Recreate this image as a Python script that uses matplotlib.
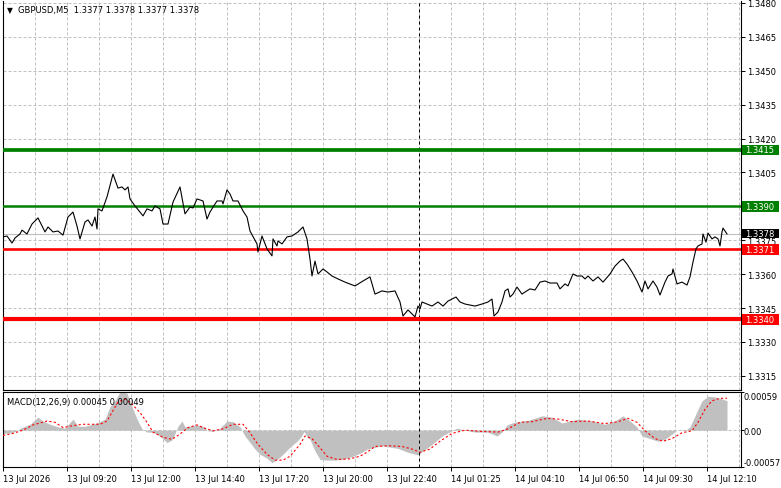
import numpy as np
import matplotlib.pyplot as plt
from matplotlib.patches import Rectangle

plt.rcParams['font.family'] = ['DejaVu Sans']

# close prices (bar index, M5 bars)
price_bars = [0, 2, 4.5, 6, 8.5, 9.5, 12, 14.5, 17.5, 19.5, 21, 22.5, 25, 27.5, 30, 32.5, 35, 37, 38.5, 41,
              42.5, 44.5, 46, 47, 47.5, 49.5, 52, 55, 57.5, 59.5, 61, 62.5, 63.5, 66, 68.5, 70, 72, 74.5, 76, 78.5,
              80, 82.5, 85, 88.5, 91, 93.5, 95, 97, 100, 102, 103.5, 105, 107, 109.5, 110, 112, 113.5, 115, 117.5, 120,
              122, 123.5, 127, 127.5, 129.5, 132, 134.5, 135, 137, 137.5, 139.5, 142, 144.5, 147.5, 150, 152, 153.5, 154.5, 156, 157.5,
              160, 162, 164.5, 167.5, 171, 176, 180, 183.5, 186, 189.5, 192.5, 196, 198.5, 200, 202.5, 204.5, 206, 207.5, 208.5, 209.5,
              212, 214.5, 217.5, 220, 222.5, 226.5, 228.5, 231, 236, 239.5, 242.5, 244.5, 245.5, 247.5, 249.5, 251, 252.5, 253.5, 255, 257,
              259.5, 261, 263.5, 266, 268.5, 271, 273.5, 277, 278.5, 281, 282.5, 285, 287, 289.5, 291, 292.5, 295, 297.5, 300, 303.5,
              306, 308.5, 310, 312, 314.5, 317, 319.5, 321, 322.5, 325, 327, 328.5, 331, 332.5, 334.5, 335, 337, 339.5, 342, 343.5,
              345, 346.5, 347.5, 349.5, 350, 351.5, 352.5, 354.5, 356, 357.5, 358.5, 359.5, 360, 362]
price_close = [1.33765, 1.33769, 1.33738, 1.33760, 1.33778, 1.33795, 1.33778, 1.33822, 1.33849, 1.33813,
               1.33787, 1.33809, 1.33787, 1.33791, 1.33773, 1.33853, 1.33875, 1.33813, 1.33756, 1.33831,
               1.33840, 1.33813, 1.33853, 1.33800, 1.33889, 1.33880, 1.33942, 1.34043, 1.33981, 1.33986,
               1.33973, 1.33986, 1.33933, 1.33902, 1.33875, 1.33858, 1.33889, 1.33880, 1.33902, 1.33889,
               1.33822, 1.33822, 1.33919, 1.33986, 1.33867, 1.33897, 1.33893, 1.33933, 1.33924, 1.33844,
               1.33875, 1.33897, 1.33924, 1.33924, 1.33911, 1.33973, 1.33955, 1.33924, 1.33924, 1.33880,
               1.33853, 1.33791, 1.33734, 1.33698, 1.33769, 1.33712, 1.33681, 1.33756, 1.33725, 1.33747,
               1.33734, 1.33765, 1.33769, 1.33787, 1.33809, 1.33756, 1.33667, 1.33592, 1.33658, 1.33601,
               1.33623, 1.33610, 1.33592, 1.33579, 1.33565, 1.33548, 1.33570, 1.33588, 1.33512, 1.33526,
               1.33521, 1.33526, 1.33477, 1.33415, 1.33442, 1.33424, 1.33411, 1.33459, 1.33446, 1.33477,
               1.33468, 1.33459, 1.33477, 1.33459, 1.33481, 1.33499, 1.33477, 1.33468, 1.33459, 1.33468,
               1.33477, 1.33490, 1.33415, 1.33433, 1.33477, 1.33526, 1.33535, 1.33499, 1.33512, 1.33543,
               1.33512, 1.33521, 1.33535, 1.33530, 1.33565, 1.33570, 1.33561, 1.33561, 1.33535, 1.33557,
               1.33548, 1.33601, 1.33592, 1.33592, 1.33579, 1.33592, 1.33570, 1.33588, 1.33565, 1.33601,
               1.33636, 1.33658, 1.33667, 1.33645, 1.33610, 1.33570, 1.33521, 1.33570, 1.33535, 1.33570,
               1.33543, 1.33508, 1.33565, 1.33592, 1.33601, 1.33623, 1.33557, 1.33565, 1.33552, 1.33588,
               1.33654, 1.33712, 1.33725, 1.33734, 1.33778, 1.33742, 1.33782, 1.33756, 1.33765, 1.33756,
               1.33725, 1.33787, 1.33804, 1.33778]

# MACD(12,26,9) histogram and signal
hist_bars = [0, 4.5, 7.5, 8.5, 13.5, 17.5, 20, 23.5, 27.5, 31, 33.5, 35, 37.5, 41, 44.5, 47.5, 51, 53.5, 56, 58.5,
             62, 64.5, 67, 69.5, 72, 75, 78.5, 82, 84.5, 86, 87.5, 89.5, 91, 93.5, 97, 100, 102.5, 105, 108.5, 112,
             115, 118.5, 121, 123.5, 126, 128.5, 132, 134.5, 137, 140, 143.5, 147, 149.5, 150.5, 152.5, 153.5, 156, 158.5, 162, 165,
             170, 175, 179.5, 182, 189.5, 197.5, 202.5, 207.5, 210, 214.5, 219.5, 224.5, 227, 231, 236, 242.5, 247, 249.5, 252, 254.5,
             257.5, 262.5, 269.5, 274.5, 279.5, 283.5, 287.5, 294.5, 301, 306, 310, 313.5, 317, 319.5, 322.5, 327.5, 331, 334.5, 337, 341,
             343.5, 346, 347.5, 349.5, 352.5, 356, 359.5, 362]
hist_vals = [-0.00005, -0.00004, 0.0, 0.00003, 0.00009, 0.00020, 0.00014, 0.00009, 0.00005, 0.00003,
             0.00012, 0.00017, 0.00006, 0.00006, 0.00009, 0.00012, 0.00017, 0.00036, 0.00045, 0.00059,
             0.00057, 0.00036, 0.00017, 0.00002, -0.00003, -0.00003, -0.00009, -0.00019, -0.00015, -0.00005,
             0.00006, 0.00014, 0.00005, 0.00006, 0.00008, 0.00006, -0.00001, -0.00002, 0.00003, 0.00014,
             0.00013, 0.00005, -0.00009, -0.00019, -0.00029, -0.00037, -0.00043, -0.00050, -0.00045, -0.00037,
             -0.00026, -0.00017, -0.00008, -0.00002, -0.00012, -0.00014, -0.00032, -0.00045, -0.00046, -0.00046,
             -0.00045, -0.00040, -0.00034, -0.00029, -0.00024, -0.00028, -0.00034, -0.00038, -0.00032, -0.00022,
             -0.00009, -0.00001, 0.00003, 0.00000, -0.00003, -0.00003, -0.00009, -0.00003, 0.00008, 0.00011,
             0.00013, 0.00015, 0.00022, 0.00020, 0.00011, 0.00014, 0.00017, 0.00014, 0.00009, 0.00014,
             0.00022, 0.00014, 0.00005, -0.00009, -0.00012, -0.00017, -0.00014, -0.00006, 0.00000, -0.00001,
             0.00005, 0.00022, 0.00032, 0.00045, 0.00052, 0.00051, 0.00048, 0.00045]
sig_bars = [0, 5, 10, 15, 22, 26, 30, 35, 40, 48.5, 52, 55, 57.5, 61, 64.5, 68.5, 72, 75, 80, 84.5,
            88.5, 92.5, 97, 100, 105, 110, 115, 120, 123.5, 127.5, 132, 136, 140, 143.5, 148.5, 151, 154.5, 158.5, 162, 167,
            173.5, 178.5, 182, 186, 192.5, 199.5, 204.5, 208.5, 213.5, 218.5, 224.5, 231, 239.5, 247.5, 252.5, 258.5, 264.5, 272, 277.5, 284.5,
            292.5, 301, 307.5, 312.5, 317, 321, 326, 330, 334.5, 339.5, 344.5, 347.5, 351, 354.5, 357.5, 360, 362]
sig_vals = [-0.00008, -0.00005, 0.00000, 0.00008, 0.00014, 0.00012, 0.00004, 0.00007, 0.00009, 0.00009,
            0.00014, 0.00030, 0.00043, 0.00048, 0.00040, 0.00027, 0.00012, -0.00003, -0.00011, -0.00014,
            -0.00006, 0.00004, 0.00008, 0.00004, -0.00001, 0.00002, 0.00009, 0.00009, -0.00004, -0.00022,
            -0.00037, -0.00046, -0.00046, -0.00040, -0.00022, -0.00009, -0.00013, -0.00027, -0.00040, -0.00045,
            -0.00044, -0.00040, -0.00034, -0.00025, -0.00024, -0.00025, -0.00029, -0.00034, -0.00029, -0.00017,
            -0.00005, 0.00000, -0.00002, -0.00003, 0.00002, 0.00012, 0.00013, 0.00018, 0.00017, 0.00013,
            0.00014, 0.00010, 0.00013, 0.00018, 0.00012, -0.00001, -0.00013, -0.00017, -0.00013, -0.00004,
            -0.00001, 0.00012, 0.00032, 0.00045, 0.00048, 0.00049, 0.00049]

time_ticks = [0, 32, 64, 96, 128, 160, 192, 224, 256, 288, 320, 352]
time_labels = ["13 Jul 2026", "13 Jul 09:20", "13 Jul 12:00", "13 Jul 14:40", "13 Jul 17:20", "13 Jul 20:00",
               "13 Jul 22:40", "14 Jul 01:25", "14 Jul 04:10", "14 Jul 06:50", "14 Jul 09:30", "14 Jul 12:10"]
price_ticks = [1.3315, 1.3330, 1.3345, 1.3360, 1.3375, 1.3390, 1.3405, 1.3420, 1.3435, 1.3450, 1.3465, 1.3480]
levels = [1.3415, 1.3390, 1.3371, 1.3340]
level_colors = ['#008000', '#008000', '#ff0000', '#ff0000']
level_widths = [2.7, 1.8, 1.9, 3.0]
last_price = 1.3378
separator_bar = 208
macd_ticks = [-0.00057, 0.0, 0.00059]
macd_labels = ["-0.00057", "0.00", "0.00059"]

W, H = 781, 489
grid_kw = dict(color='#c0c0c0', linestyle=(0, (3, 2)), linewidth=0.72)

fig = plt.figure(figsize=(W / 100, H / 100), dpi=100)
ax = fig.add_axes([2.5 / W, 1 - 391 / H, 738 / W, 389 / H])
ax2 = fig.add_axes([2.5 / W, 1 - 468.3 / H, 738 / W, 75.6 / H])

# main price panel
ax.plot(price_bars, price_close, color='black', lw=0.8, zorder=4)
for lv, c, w in zip(levels, level_colors, level_widths):
    ax.axhline(lv, color=c, lw=w, zorder=3)
ax.axhline(last_price, color='#c0c0c0', lw=0.8, zorder=2)
ax.axvline(separator_bar, color='black', lw=0.72, linestyle=(0, (3, 3)), zorder=2)

ax.set_xlim(-0.25, 368.75)
ax.set_ylim(1.330876, 1.348088)
ax.set_xticks(np.arange(0, 369, 16))
ax.set_yticks(price_ticks)
# the 1.3390 scale label sits under the level box
ax.set_yticklabels(["" if p in levels else "%.4f" % p for p in price_ticks])
ax.yaxis.tick_right()
ax.tick_params(axis='y', length=3, width=0.7, labelsize=6, pad=1.5)
ax.tick_params(axis='x', length=0, labelbottom=False)
ax.grid(True, **grid_kw)
ax.set_axisbelow(True)
ax.spines['top'].set_visible(False)
for s in ['left', 'right', 'bottom']:
    ax.spines[s].set_linewidth(0.8)

# price boxes on the right scale
boxes = list(zip(levels, level_colors)) + [(last_price, 'black')]
for lv, c in boxes:
    h = 0.000465 if c != 'black' else 0.00042
    ax.add_patch(Rectangle((1.0015, lv - h / 2), 0.051, h, transform=ax.get_yaxis_transform(),
                           facecolor=c, edgecolor='none', clip_on=False, zorder=10))
    ax.text(1.0062, lv, "%.4f" % lv, transform=ax.get_yaxis_transform(), color='white',
            fontsize=6, va='center', ha='left', zorder=11, clip_on=False)

fig.text(6.5 / W, 1 - 10.5 / H, "\u25bc", fontsize=5.5, va='center', ha='left')
fig.text(17.5 / W, 1 - 11 / H, "GBPUSD,M5  1.3377 1.3378 1.3377 1.3378", fontsize=6, va='center', ha='left')

# MACD panel
ax2.fill_between(hist_bars, 0, hist_vals, color='#c0c0c0', lw=0, zorder=2)
ax2.plot(sig_bars, sig_vals, color='#ff0000', lw=0.8, linestyle=(0, (2, 2)), zorder=3)
ax2.axvline(separator_bar, color='black', lw=0.72, linestyle=(0, (3, 3)), zorder=4)
ax2.set_xlim(-0.25, 368.75)
ax2.set_ylim(-0.00057, 0.00059)
ax2.set_xticks(time_ticks)
ax2.set_xticklabels(time_labels)
ax2.set_xticks(np.arange(16, 369, 32), minor=True)
for lab in ax2.get_xticklabels():
    lab.set_ha('left')
ax2.tick_params(axis='x', which='major', length=3, width=0.7, labelsize=6, pad=2)
ax2.tick_params(axis='x', which='minor', length=0)
ax2.set_yticks(macd_ticks)
ax2.set_yticklabels(macd_labels)
ax2.yaxis.tick_right()
ax2.tick_params(axis='y', length=2, width=0.7, labelsize=6, pad=0.3)
ylabs = ax2.get_yticklabels()
ylabs[0].set_va('bottom')
ylabs[-1].set_va('top')
ax2.grid(True, which='both', **grid_kw)
ax2.set_axisbelow(True)
for s in ax2.spines.values():
    s.set_linewidth(0.8)
fig.text(7 / W, 1 - 402 / H, "MACD(12,26,9) 0.00045 0.00049", fontsize=6, va='center', ha='left')

fig.savefig("out.png", dpi=100)
